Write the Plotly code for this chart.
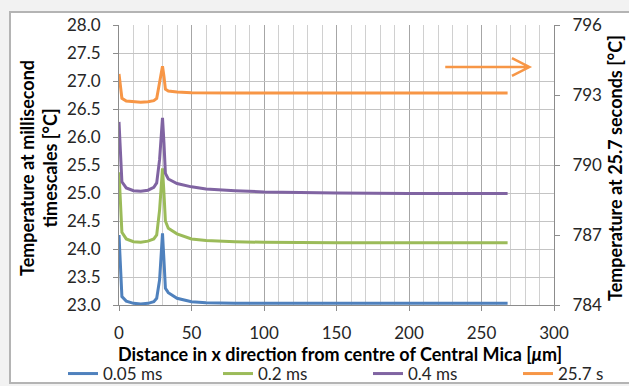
import plotly.graph_objects as go

# ---- data ----
x_um = [0, 1, 2, 5, 10, 15, 20, 24, 26, 28, 29, 30, 31, 32, 34, 40, 50, 60, 80, 100, 150, 200, 268]

t_005ms = [24.25, 23.6, 23.15, 23.07, 23.03, 23.02, 23.03, 23.06, 23.12, 23.45, 23.9, 24.28, 23.8, 23.3, 23.22, 23.12, 23.06, 23.04, 23.03, 23.03, 23.03, 23.03, 23.03]
t_02ms = [25.37, 24.7, 24.3, 24.18, 24.13, 24.12, 24.14, 24.18, 24.25, 24.7, 25.1, 25.44, 25.0, 24.5, 24.37, 24.27, 24.18, 24.15, 24.13, 24.12, 24.11, 24.11, 24.11]
t_04ms = [26.27, 25.6, 25.2, 25.09, 25.04, 25.03, 25.05, 25.1, 25.18, 25.6, 26.0, 26.34, 25.9, 25.35, 25.25, 25.17, 25.11, 25.07, 25.04, 25.02, 25.0, 24.99, 24.99]
t_257s = [793.9, 793.3, 792.86, 792.74, 792.7, 792.69, 792.71, 792.76, 792.85, 793.5, 793.9, 794.23, 793.8, 793.25, 793.17, 793.13, 793.1, 793.09, 793.09, 793.09, 793.09, 793.09, 793.09]

series_names = ["0.05 ms", "0.2 ms", "0.4 ms", "25.7 s"]
series_colors = ["#4F81BD", "#9BBB59", "#8064A2", "#F79646"]

x_ticks = [0, 50, 100, 150, 200, 250, 300]
left_ticks = [23.0, 23.5, 24.0, 24.5, 25.0, 25.5, 26.0, 26.5, 27.0, 27.5, 28.0]
right_ticks = [784, 787, 790, 793, 796]

# arrow annotation (data units)
arrow_x0, arrow_x1, arrow_y = 225, 283, 27.25
arrow_wing_x, arrow_wing_dy = 271, 0.16

FONT = "Lato"
W, H = 629, 386
L, R, T, B = 119, 75, 25, 81
PW, PH = W - L - R, H - T - B

def px_x(px):
    return (px - L) / PW

def px_y(py):
    return (H - B - py) / PH

fig = go.Figure()
legend_widths = [110, 105, 105, 50]
all_series = [t_005ms, t_02ms, t_04ms, t_257s]
for i, (name, ys, col, lw) in enumerate(zip(series_names, all_series, series_colors, legend_widths)):
    fig.add_trace(go.Scatter(x=x_um, y=ys, name=name, mode="lines",
                             line=dict(color=col, width=3),
                             yaxis="y2" if i == 3 else "y",
                             legendwidth=lw))

tickfont = dict(family=FONT, size=17, color="#262626")

fig.update_layout(
    width=W, height=H,
    margin=dict(l=L, r=R, t=T, b=B, autoexpand=False),
    paper_bgcolor="#f2f2f2",
    plot_bgcolor="white",
    font=dict(family=FONT, color="#000000"),
    showlegend=True,
    legend=dict(orientation="h", x=px_x(63), xanchor="left", y=px_y(374), yanchor="middle",
                font=dict(family=FONT, size=17, color="#262626"),
                bgcolor="rgba(0,0,0,0)", tracegroupgap=0),
    xaxis=dict(range=[0, 300], tickvals=x_ticks, showgrid=True, gridcolor="#a6a6a6", gridwidth=1,
               minor=dict(dtick=10, showgrid=True, gridcolor="#d0d0d0", gridwidth=1),
               showline=True, linecolor="#8c8c8c", linewidth=1,
               ticks="outside", ticklen=5, tickcolor="#8c8c8c",
               tickfont=tickfont, ticklabelstandoff=8, zeroline=False, automargin=False),
    yaxis=dict(range=[23, 28], tickvals=left_ticks, tickformat=".1f",
               showgrid=True, gridcolor="#c4c4c4", gridwidth=1,
               showline=True, linecolor="#8c8c8c", linewidth=1,
               ticks="outside", ticklen=5, tickcolor="#8c8c8c",
               tickfont=tickfont, ticklabelstandoff=9, zeroline=False, automargin=False),
    yaxis2=dict(range=[784, 796], tickvals=right_ticks, overlaying="y", side="right",
                showgrid=False, showline=True, linecolor="#8c8c8c", linewidth=1,
                ticks="outside", ticklen=5, tickcolor="#8c8c8c",
                tickfont=tickfont, ticklabelstandoff=9, zeroline=False, automargin=False),
)

# outer frame
fig.add_shape(type="rect", xref="paper", yref="paper",
              x0=px_x(10), x1=px_x(660), y0=px_y(383), y1=px_y(12),
              line=dict(color="#b4b4b4", width=2), fillcolor="white", layer="below")

# axis titles
fig.add_annotation(text="Distance in x direction from centre of Central Mica [<i>μ</i>m]",
                   xref="paper", yref="paper", x=px_x(340), y=px_y(354),
                   xanchor="center", yanchor="middle", showarrow=False,
                   font=dict(family=FONT, size=18, color="#000000", weight="bold"))
fig.add_annotation(text="Temperature at millisecond<br>timescales [°C]",
                   xref="paper", yref="paper", x=px_x(38), y=px_y(168),
                   xanchor="center", yanchor="middle", showarrow=False, textangle=-90,
                   font=dict(family=FONT, size=18, color="#000000", weight="bold"))
fig.add_annotation(text="Temperature at 25.7 seconds [°C]",
                   xref="paper", yref="paper", x=px_x(615), y=px_y(168),
                   xanchor="center", yanchor="middle", showarrow=False, textangle=-90,
                   font=dict(family=FONT, size=18, color="#000000", weight="bold"))

# orange arrow pointing to right axis
fig.add_shape(type="path", xref="x", yref="y",
              path=f"M{arrow_x0},{arrow_y} L{arrow_x1},{arrow_y} "
                   f"M{arrow_wing_x},{arrow_y + arrow_wing_dy} L{arrow_x1},{arrow_y} L{arrow_wing_x},{arrow_y - arrow_wing_dy}",
              line=dict(color=series_colors[3], width=2.5))

fig.write_html("out.html", config={"displayModeBar": False},
               post_script="document.body.style.margin='0';document.body.style.padding='0';")
